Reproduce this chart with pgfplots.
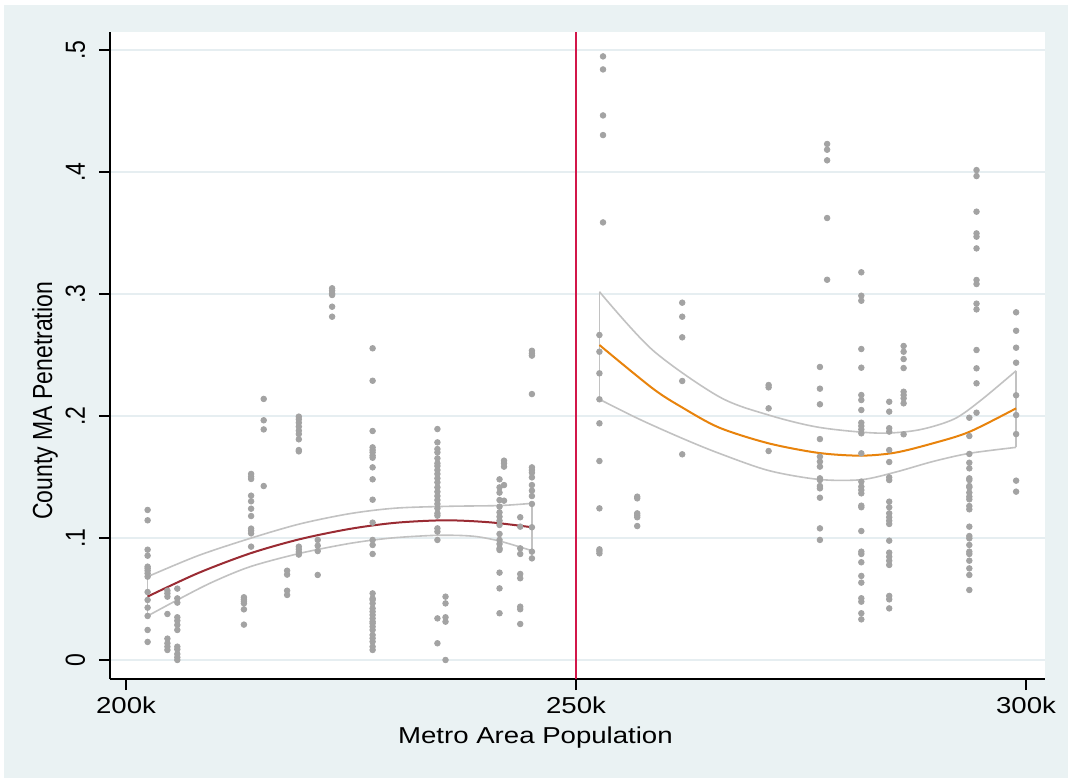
\documentclass[border=0pt]{standalone}
\usepackage{fontspec}
\setmainfont{Liberation Sans}
\usepackage{pgfplots}
\pgfplotsset{compat=1.18}
\definecolor{bgc}{HTML}{EAF2F3}
\definecolor{gridc}{HTML}{E6EEF1}
\definecolor{ptc}{HTML}{A3A3A3}
\definecolor{cic}{HTML}{C2C2C2}
\definecolor{fitl}{HTML}{9A2B33}
\definecolor{fitr}{HTML}{E8830C}
\definecolor{vlinec}{HTML}{D2174A}
\begin{document}
\begin{tikzpicture}
\fill[white] (-55pt,-49.5pt) rectangle (479pt,339.5pt);
\fill[bgc] (-53pt,-49.5pt) rectangle (479pt,337pt);
\begin{axis}[
 at={(0,0)}, anchor=south west,
 width=467.5pt, height=323.5pt, scale only axis,
 xmin=198.22, xmax=302.11, ymin=-0.0156, ymax=0.5148,
 axis lines*=left,
 axis line style={black, line width=0.8pt},
 axis background/.style={fill=white},
 tick align=outside, major tick length=5.5pt,
 every tick/.style={black, line width=0.8pt},
 xtick={200,250,300}, xticklabels={200k,250k,300k},
 ytick={0,0.1,0.2,0.3,0.4,0.5}, yticklabels={0,.1,.2,.3,.4,.5},
 ymajorgrids, major grid style={gridc, line width=0.8pt},
 font=\fontsize{11.5}{13}\selectfont,
 /pgf/number format/assume math mode=true,
 xticklabel style={xscale=1.2},
 yticklabel style={xshift=-7pt, xscale=1.2, rotate=90, anchor=base},
 every axis x label/.style={at={(axis description cs:0.455,-0.0989)}, anchor=base, xscale=1.2},
 every axis y label/.style={at={(axis description cs:-0.0695,0.43)}, xscale=1.2, rotate=90, anchor=center},
 xlabel={Metro Area Population}, ylabel={County MA Penetration},
]
% scatter
\addplot[ptc, only marks, mark=*, mark size=1.4pt, mark options={draw=ptc, fill=ptc}] coordinates {
(202.4,.123)(202.4,.1145)(202.4,.0904)(202.4,.0855)(202.4,.0765)(202.4,.0751)(202.4,.0732)(202.4,.0710)(202.4,.0683)(202.4,.0557)(202.4,.0492)(202.4,.0429)(202.4,.0361)(202.4,.0246)(202.4,.0148)
(204.6,.0568)(204.6,.0546)(204.6,.0519)(204.6,.0377)(204.6,.0175)(204.6,.0137)(204.6,.0109)(204.6,.0082)
(205.7,.0585)(205.7,.0505)(205.7,.047)(205.7,.035)(205.7,.0322)(205.7,.0287)(205.7,.0246)(205.7,.0109)(205.7,.0087)(205.7,.0049)(205.7,.0022)(205.7,0)
(213.1,.0514)(213.1,.0497)(213.1,.0481)(213.1,.0464)(213.1,.0415)(213.1,.029)
(213.9,.1525)(213.9,.1503)(213.9,.1484)(213.9,.1347)(213.9,.1301)(213.9,.124)(213.9,.118)(213.9,.1077)(213.9,.106)(213.9,.1038)(213.9,.0929)
(215.3,.214)(215.3,.1965)(215.3,.189)(215.3,.1426)
(217.9,.0732)(217.9,.070)(217.9,.0568)(217.9,.0533)
(219.2,.1995)(219.2,.1973)(219.2,.1945)(219.2,.1913)(219.2,.188)(219.2,.1852)(219.2,.1809)(219.2,.1721)(219.2,.171)(219.2,.0929)(219.2,.0907)(219.2,.0885)(219.2,.0864)
(221.3,.0984)(221.3,.0937)(221.3,.0893)(221.3,.0697)
(222.9,.3047)(222.9,.3027)(222.9,.3005)(222.9,.2992)(222.9,.2896)(222.9,.2814)
(227.4,.2555)(227.4,.2289)(227.4,.1877)(227.4,.1743)(227.4,.1721)(227.4,.1702)(227.4,.1675)(227.4,.1658)(227.4,.1579)(227.4,.1481)(227.4,.1314)(227.4,.1126)(227.4,.0984)(227.4,.0943)(227.4,.0869)(227.4,.0546)(227.4,.0505)(227.4,.0492)(227.4,.0464)(227.4,.0423)(227.4,.0396)(227.4,.0369)(227.4,.0341)(227.4,.0314)(227.4,.03)(227.4,.0273)(227.4,.0246)(227.4,.0205)(227.4,.0178)(227.4,.015)(227.4,.0109)(227.4,.0082)
(234.6,.1893)(234.6,.1784)(234.6,.1729)(234.6,.1702)(234.6,.1653)(234.6,.1612)(234.6,.159)(234.6,.1557)(234.6,.1525)(234.6,.1489)(234.6,.1456)(234.6,.1415)(234.6,.1379)(234.6,.1344)(234.6,.1311)(234.6,.1279)(234.6,.1243)(234.6,.1202)(234.6,.1183)(234.6,.1079)(234.6,.1052)(234.6,.0984)(234.6,.0341)(234.6,.0137)
(235.5,.0519)(235.5,.0464)(235.5,.035)(235.5,.0314)(235.5,0)
(241.5,.1481)(241.5,.1415)(241.5,.1372)(241.5,.1311)(241.5,.1257)(241.5,.121)(241.5,.1175)(241.5,.1142)(241.5,.1107)(241.5,.1033)(241.5,.0984)(241.5,.0951)(241.5,.0915)(241.5,.0902)(241.5,.0716)(241.5,.0587)(241.5,.0383)
(242.0,.1634)(242.0,.1612)(242.0,.1585)(242.0,.1434)(242.0,.1306)
(243.8,.117)(243.8,.1093)(243.8,.0915)(243.8,.0869)(243.8,.0705)(243.8,.067)(243.8,.0437)(243.8,.0416)(243.8,.0295)
(245.1,.2535)(245.1,.2514)(245.1,.2495)(245.1,.218)(245.1,.1579)(245.1,.1557)(245.1,.1535)(245.1,.1497)(245.1,.1434)(245.1,.1388)(245.1,.1344)(245.1,.1279)(245.1,.1088)(245.1,.0888)(245.1,.0833)
(253.0,.4948)(253.0,.4841)(253.0,.4464)(253.0,.4303)(253.0,.3587)
(252.6,.2664)(252.6,.2527)(252.6,.235)(252.6,.2137)(252.6,.194)(252.6,.1631)(252.6,.1243)(252.6,.0907)(252.6,.0893)(252.6,.0874)
(256.8,.1339)(256.8,.1325)(256.8,.1202)(256.8,.1186)(256.8,.117)(256.8,.1098)
(261.8,.2929)(261.8,.2814)(261.8,.2645)(261.8,.2287)(261.8,.1686)
(271.4,.2254)(271.4,.2235)(271.4,.2063)(271.4,.1713)
(277.1,.2402)(277.1,.2224)(277.1,.2096)(277.1,.1811)(277.1,.1667)(277.1,.1626)(277.1,.1585)(277.1,.1489)(277.1,.1475)(277.1,.1426)(277.1,.1407)(277.1,.133)(277.1,.1079)(277.1,.0984)
(277.9,.423)(277.9,.4183)(277.9,.4096)(277.9,.3623)(277.9,.3117)
(281.7,.3178)(281.7,.2986)(281.7,.2945)(281.7,.2549)(281.7,.2396)(281.7,.2172)(281.7,.2131)(281.7,.2049)(281.7,.1945)(281.7,.1918)(281.7,.189)(281.7,.1858)(281.7,.1694)(281.7,.1462)(281.7,.1421)(281.7,.1393)(281.7,.1366)(281.7,.1265)(281.7,.1252)(281.7,.1057)(281.7,.0888)(281.7,.0869)(281.7,.0801)(281.7,.0689)(281.7,.0634)(281.7,.0506)(281.7,.0478)(281.7,.0383)(281.7,.0333)
(284.8,.2117)(284.8,.2036)(284.8,.19)(284.8,.1872)(284.8,.1721)(284.8,.1623)(284.8,.1497)(284.8,.1475)(284.8,.1298)(284.8,.1252)(284.8,.1202)(284.8,.117)(284.8,.1142)(284.8,.1115)(284.8,.0978)(284.8,.088)(284.8,.0847)(284.8,.0814)(284.8,.0779)(284.8,.0525)(284.8,.0497)(284.8,.0423)
(286.4,.2574)(286.4,.2527)(286.4,.2467)(286.4,.2393)(286.4,.2199)(286.4,.2172)(286.4,.2145)(286.4,.2104)(286.4,.185)
(293.7,.1986)(293.7,.1836)(293.7,.1689)(293.7,.1617)(293.7,.1571)(293.7,.1489)(293.7,.1475)(293.7,.1426)(293.7,.1415)(293.7,.1372)(293.7,.1339)(293.7,.1317)(293.7,.1262)(293.7,.1235)(293.7,.1093)(293.7,.1016)(293.7,.0997)(293.7,.0943)(293.7,.0888)(293.7,.0869)(293.7,.0814)(293.7,.0751)(293.7,.0697)(293.7,.0574)
(294.5,.4016)(294.5,.3967)(294.5,.3675)(294.5,.3497)(294.5,.347)(294.5,.3374)(294.5,.3115)(294.5,.3082)(294.5,.2921)(294.5,.2874)(294.5,.2541)(294.5,.2391)(294.5,.2268)(294.5,.2027)
(298.9,.285)(298.9,.2699)(298.9,.256)(298.9,.2437)(298.9,.217)(298.9,.2008)(298.9,.1852)(298.9,.147)(298.9,.138)
};
% left CI
\addplot[cic, line width=0.8pt, smooth] coordinates {(202.4,.0683)(208,.0855)(213.8,.0997)(219.3,.1115)(224.9,.1200)(230,.1245)(236,.1260)(241.5,.1266)(245.1,.1284)};
\addplot[cic, line width=0.8pt, smooth] coordinates {(202.4,.0361)(205.7,.0492)(209.5,.0635)(213.8,.0765)(219.3,.0874)(224.9,.0956)(229.5,.1000)(234.6,.1022)(238.5,.1015)(241.5,.0975)(245.1,.0896)};
\addplot[cic, line width=0.8pt] coordinates {(202.4,.0361)(202.4,.0683)};
\addplot[cic, line width=0.8pt] coordinates {(245.1,.0896)(245.1,.1284)};
% right CI
\addplot[cic, line width=0.8pt, smooth] coordinates {(252.6,.3019)(258.5,.2541)(265.9,.2158)(271.4,.2008)(277,.1907)(283.5,.1860)(288,.1885)(292,.1975)(295,.2130)(298.9,.2371)};
\addplot[cic, line width=0.8pt, smooth] coordinates {(252.6,.2137)(257,.1975)(261.8,.1817)(265.9,.1694)(271.4,.1553)(277,.1480)(281.7,.1478)(285.5,.1540)(289.6,.1626)(293.7,.1694)(298.9,.1743)};
\addplot[cic, line width=0.8pt] coordinates {(252.6,.2137)(252.6,.3019)};
\addplot[cic, line width=0.8pt] coordinates {(298.9,.1743)(298.9,.2371)};
% fits
\addplot[fitl, line width=1pt, smooth] coordinates {(202.4,.052)(208,.0712)(213.8,.0874)(219.3,.0990)(224.9,.1075)(230,.1125)(235.5,.1145)(240.5,.1128)(245.1,.1088)};
\addplot[fitr, line width=1pt, smooth] coordinates {(252.6,.2582)(258.5,.2227)(261.8,.2070)(265.9,.1905)(271.4,.1776)(277,.1697)(281.7,.1675)(285.5,.1700)(289.6,.1775)(293.7,.1870)(298.9,.2063)};
% vertical line
\addplot[vlinec, line width=1pt] coordinates {(250,-0.0156)(250,0.5148)};
\end{axis}
\end{tikzpicture}
\end{document}
